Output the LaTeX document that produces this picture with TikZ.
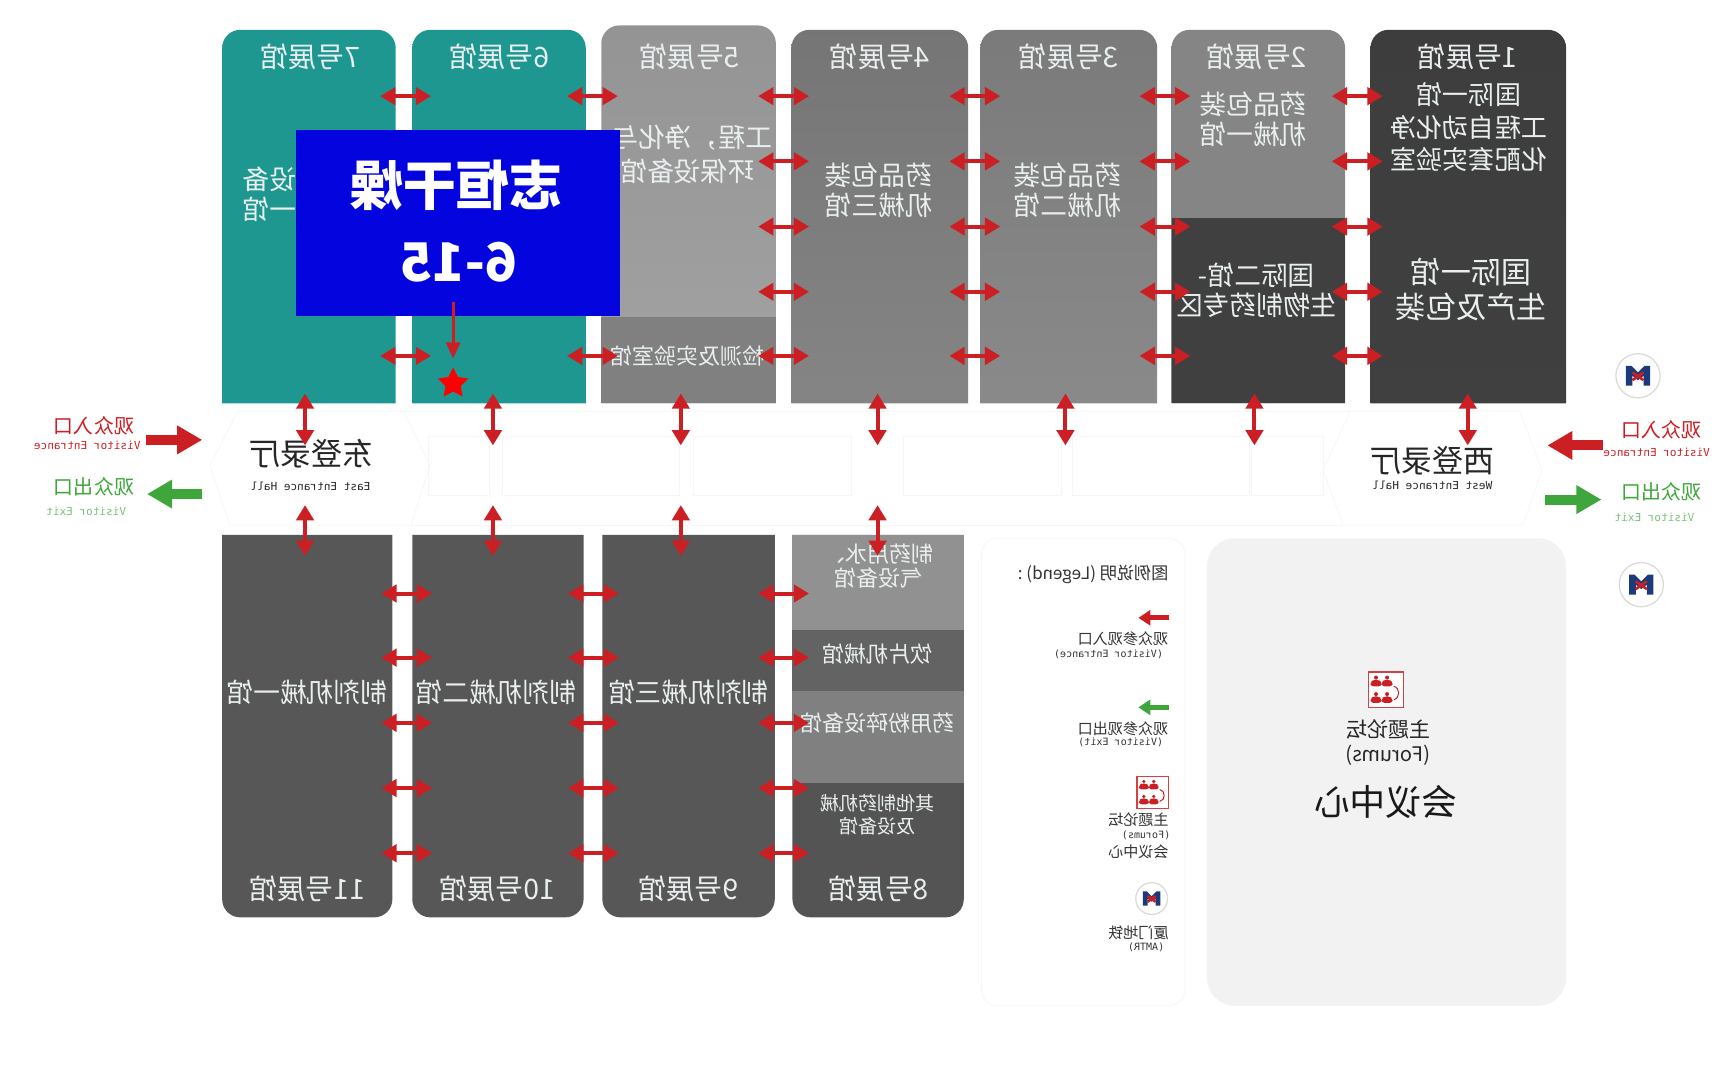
\documentclass[tikz,border=0pt]{standalone}
\usepackage{fontspec}
\setmainfont{Noto Sans CJK SC}
\setmonofont{DejaVu Sans Mono}
\usetikzlibrary{arrows.meta,shapes.geometric}
\definecolor{hallteal}{HTML}{1E9790}
\definecolor{arrowred}{HTML}{CC1F24}
\definecolor{arrowgreen}{HTML}{3FA63C}
\definecolor{hallpale}{HTML}{E9EEEE}
\definecolor{faintline}{HTML}{F6F6F6}
\definecolor{metronavy}{HTML}{1B3A78}
\tikzset{
    mir/.style={xscale=-1,transform shape,inner sep=0pt},
    hallname/.style={mir,text=hallpale,font=\fontsize{14}{16}\selectfont},
    halltext/.style={mir,text=hallpale,align=center,font=\fontsize{13.3}{15}\selectfont},
    smalltext/.style={mir,text=hallpale,align=center,font=\fontsize{11}{12}\selectfont},
    latin/.style={mir,font=\fontsize{5.5}{6}\ttfamily},
    legendtext/.style={mir,text=black!80,font=\fontsize{7.5}{9}\selectfont},
    legendlatin/.style={mir,text=black!80,font=\fontsize{5}{6}\ttfamily},
    biarrow/.style={draw=arrowred,line width=2pt,{Triangle[length=7.6pt,width=8.6pt]}-{Triangle[length=7.6pt,width=8.6pt]}},
    bigarrow/.style={line width=5pt,-{Triangle[length=12.5pt,width=13.5pt]}},
    keyarrow/.style={line width=2.6pt,-{Triangle[length=6pt,width=7.5pt]}},
    metrologo/.pic={
        \draw[fill=white,draw=black!15,line width=.6pt] (0,0) circle (20);
        \fill[metronavy] (-11,-9) -- (-6,-9) -- (0,-3) -- (6,-9) -- (11,-9) -- (11,9) -- (5,9) -- (5,0) -- (0,4) -- (-5,0) -- (-5,9) -- (-11,9) -- cycle;
        \draw[arrowred,line width=1.3pt] (-5,-3) -- (5,4) (5,-3) -- (-5,4);
    },
    forumicon/.pic={
        \draw[fill=white,draw=arrowred!85,line width=.7pt] (-16,-16) rectangle (16,16);
        \foreach \px/\py in {-9/-5,1/-5,-9/10,1/10} {
            \fill[arrowred] (\px,\py-6) circle (1.8);
            \fill[arrowred,rounded corners=1.5] (\px-5,\py+2) -- (\px-5,\py-2) -- (\px-2,\py-4) -- (\px+2,\py-4) -- (\px+5,\py-2) -- (\px+5,\py+2) -- cycle;
        }
        \draw[arrowred,line width=.5pt] (7,-3) .. controls (13,-2) and (13,8) .. (7,9);
    }
}
\begin{document}
\begin{tikzpicture}[x=.55pt,y=-.55pt]
    \useasboundingbox (0,0) rectangle (1568,964);

    \foreach \xa/\xb/\ya/\ca/\cb in {201/358/27/hallteal/hallteal,373/530/27/hallteal/hallteal,544/702/23/black!42/black!36,716/876/27/black!54/black!48,887/1047/27/black!52/black!46,1060/1217/27/black!48/black!48,1240/1417/27/black!76/black!75} {
        \shade[top color=\ca,bottom color=\cb] (\xa,365) [rounded corners=9] -- (\xa,\ya) -- (\xb,\ya) [sharp corners] -- (\xb,365) -- cycle;
    }
    \fill[black!50] (544,287) rectangle (702,365);
    \fill[black!75] (1060,197) rectangle (1217,365);

    \foreach \xa/\xb/\c in {201/355/black!66,373/528/black!66,545/701/black!66,717/872/black!67} {
        \fill[\c] (\xa,484) [rounded corners=9] -- (\xa,830) -- (\xb,830) [sharp corners] -- (\xb,484) -- cycle;
    }
    \fill[black!43] (717,484) rectangle (872,570);
    \fill[black!61] (717,570) rectangle (872,625);
    \fill[black!50] (717,625) rectangle (872,708);

    \draw[faintline] (215,372) -- (365,372) -- (389,421) -- (372,475) -- (208,475) -- (190,421) -- cycle;
    \draw[faintline] (1222,372) -- (1375,372) -- (1395,425) -- (1378,475) -- (1215,475) -- (1197,425) -- cycle;
    \draw[faintline] (365,372) -- (1222,372) (372,475) -- (1215,475);
    \foreach \xa/\xb in {388/443,455/615,627/770,817/960,970/1130,1132/1197} {
        \draw[faintline] (\xa,395) rectangle (\xb,448);
    }
    \draw[faintline,rounded corners=8] (888,487) rectangle (1072,910);
    \fill[black!5,rounded corners=14] (1092,487) rectangle (1417,910);

    \foreach \x/\n in {281/7,452/6,624/5,796/4,967/3,1137/2,1328/1} {
        \node[hallname] (name\n) at (\x,51) {{\n}号展馆};
    }
    \foreach \x/\n in {278/11,450/10,623/9,795/8} {
        \node[hallname] (name\n) at (\x,804) {{\n}号展馆};
    }

    \node[halltext] (seven) at (244,176) {设备\\一馆};
    \node[halltext] (fivea) at (626,125) {工程，净化与};
    \node[halltext] (fiveb) at (622,155) {环保设备馆};
    \node[smalltext] (fivec) at (622,322) {检测及实验室馆};
    \node[halltext] (four) at (795,172) {药品包装\\机械三馆};
    \node[halltext] (three) at (966,172) {药品包装\\机械二馆};
    \node[halltext] (twoa) at (1134,108) {药品包装\\机械一馆};
    \node[halltext] (twob) at (1137,263) {国际二馆-\\生物制药专区};
    \node[halltext,font=\fontsize{13}{16}\selectfont] (onea) at (1329,115) {国际一馆\\工程自动化净\\化配套实验室};
    \node[halltext,font=\fontsize{15}{17}\selectfont] (oneb) at (1331,262) {国际一馆\\生产及包装};
    \node[halltext] (eleven) at (278,626) {制剂机械一馆};
    \node[halltext] (ten) at (449,626) {制剂机械二馆};
    \node[halltext] (nine) at (623,626) {制剂机械三馆};
    \node[smalltext] (eighta) at (795,512) {制药用水、\\气设备馆};
    \node[smalltext] (eightb) at (794,592) {饮片机械馆};
    \node[smalltext] (eightc) at (794,654) {药用粉碎设备馆};
    \node[smalltext,font=\fontsize{9.5}{11.5}\selectfont] (eightd) at (794,737) {其他制药机械\\及设备馆};

    \node[mir,text=black!85,font=\fontsize{15.5}{17}\selectfont] (easthall) at (282,410) {东登录厅};
    \node[latin,text=black!85] (eastname) at (281,440) {East Entrance Hall};
    \node[mir,text=black!85,font=\fontsize{15.5}{17}\selectfont] (westhall) at (1296,417) {西登录厅};
    \node[latin,text=black!85] (westname) at (1296,439) {West Entrance Hall};

    \node[mir,text=arrowred,font=\fontsize{10}{12}\selectfont] (lin) at (85,385) {观众入口};
    \node[latin,text=arrowred] (linname) at (79,403) {Visitor Entrance};
    \node[mir,text=arrowgreen,font=\fontsize{10}{12}\selectfont] (lout) at (85,440) {观众出口};
    \node[latin,text=arrowgreen!70] (loutname) at (78,463) {Visitor Exit};
    \node[mir,text=arrowred,font=\fontsize{10}{12}\selectfont] (rin) at (1503,389) {观众入口};
    \node[latin,text=arrowred] (rinname) at (1499,409) {Visitor Entrance};
    \node[mir,text=arrowgreen,font=\fontsize{10}{12}\selectfont] (rout) at (1503,445) {观众出口};
    \node[latin,text=arrowgreen!70] (routname) at (1497,468) {Visitor Exit};

    \pic at (1482,340) {metrologo};
    \pic at (1485,529) {metrologo};

    \pic at (1254,624) {forumicon};
    \node[mir,text=black!85,font=\fontsize{10.5}{12}\selectfont] (forum) at (1256,660) {主题论坛};
    \node[mir,text=black!85,font=\fontsize{10}{12}\selectfont] (forumname) at (1256,683) {(Forums)};
    \node[mir,text=black!90,font=\fontsize{17.8}{20}\selectfont] (confroom) at (1254,726) {会议中心};

    \node[legendtext,font=\fontsize{8.5}{10}\selectfont] (legend) at (989,520) {图例说明 (Legend) :};
    \node[legendtext] (keyin) at (1016,578) {观众参观入口};
    \node[legendlatin] (keyinname) at (1003,592) {(Visitor Entrance)};
    \node[legendtext] (keyout) at (1016,659) {观众参观出口};
    \node[legendlatin] (keyoutname) at (1014,672) {(Visitor Exit)};
    \pic[scale=.9] at (1043,717) {forumicon};
    \node[legendtext] (keyforum) at (1030,742) {主题论坛};
    \node[legendlatin] (keyforumname) at (1037,756) {(Forums)};
    \node[legendtext] (keyroom) at (1030,771) {会议中心};
    \pic[scale=.72] at (1042,813) {metrologo};
    \node[legendtext] (keymetro) at (1030,844) {厦门地铁};
    \node[legendlatin] (keymetroname) at (1037,857) {(AMTR)};

    \foreach \x in {709,882,1054,1228} {
        \foreach \y in {87,146,205,264,322} {
            \coordinate (w\x\y) at (\x-23,\y);
            \coordinate (e\x\y) at (\x+23,\y);
            \draw[biarrow] (w\x\y) -- (e\x\y);
        }
    }
    \foreach \x in {367,536} {
        \foreach \y in {87,322} {
            \coordinate (w\x\y) at (\x-23,\y);
            \coordinate (e\x\y) at (\x+23,\y);
            \draw[biarrow] (w\x\y) -- (e\x\y);
        }
    }
    \foreach \x in {368,537,709} {
        \foreach \y in {537,595,654,713,772} {
            \coordinate (w\x\y) at (\x-23,\y);
            \coordinate (e\x\y) at (\x+23,\y);
            \draw[biarrow] (w\x\y) -- (e\x\y);
        }
    }
    \foreach \x in {276,446,616,794,964,1135,1328} {
        \coordinate (n\x) at (\x,356);
        \coordinate (s\x) at (\x,403);
        \draw[biarrow] (n\x) -- (s\x);
    }
    \foreach \x in {276,446,616,794} {
        \coordinate (p\x) at (\x,457);
        \coordinate (q\x) at (\x,503);
        \draw[biarrow] (p\x) -- (q\x);
    }

    \coordinate (la) at (132,398);
    \coordinate (lb) at (183,398);
    \coordinate (lc) at (183,447);
    \coordinate (ld) at (133,447);
    \coordinate (ra) at (1450,403);
    \coordinate (rb) at (1400,403);
    \coordinate (rc) at (1398,452);
    \coordinate (rd) at (1449,452);
    \draw[bigarrow,arrowred] (la) -- (lb);
    \draw[bigarrow,arrowgreen] (lc) -- (ld);
    \draw[bigarrow,arrowred] (ra) -- (rb);
    \draw[bigarrow,arrowgreen] (rc) -- (rd);

    \coordinate (ka) at (1058,559);
    \coordinate (kb) at (1030,559);
    \coordinate (kc) at (1058,640);
    \coordinate (kd) at (1030,640);
    \draw[keyarrow,arrowred] (ka) -- (kb);
    \draw[keyarrow,arrowgreen] (kc) -- (kd);

    \node[fill={rgb,255:red,4;green,4;blue,222},minimum width=161pt,minimum height=92.5pt,inner sep=0pt] (booth) at (414.5,202) {};
    \node[mir,text=white,font=\fontsize{26.5}{30}\bfseries] (boothname) at (413,168) {志恒干燥};
    \node[mir,text=white,font=\fontsize{26.5}{30}\bfseries] (boothno) at (415,237) {6-15};

    \node[star,star points=5,star point ratio=2,fill=red,inner sep=0pt,minimum size=16pt] (mark) at (410,347) {};
    \coordinate (pointer) at (410,273);
    \draw[arrowred,line width=1.4pt,-{Triangle[length=8pt,width=7pt]},shorten >=4pt] (pointer) -- (mark);
\end{tikzpicture}
\end{document}
